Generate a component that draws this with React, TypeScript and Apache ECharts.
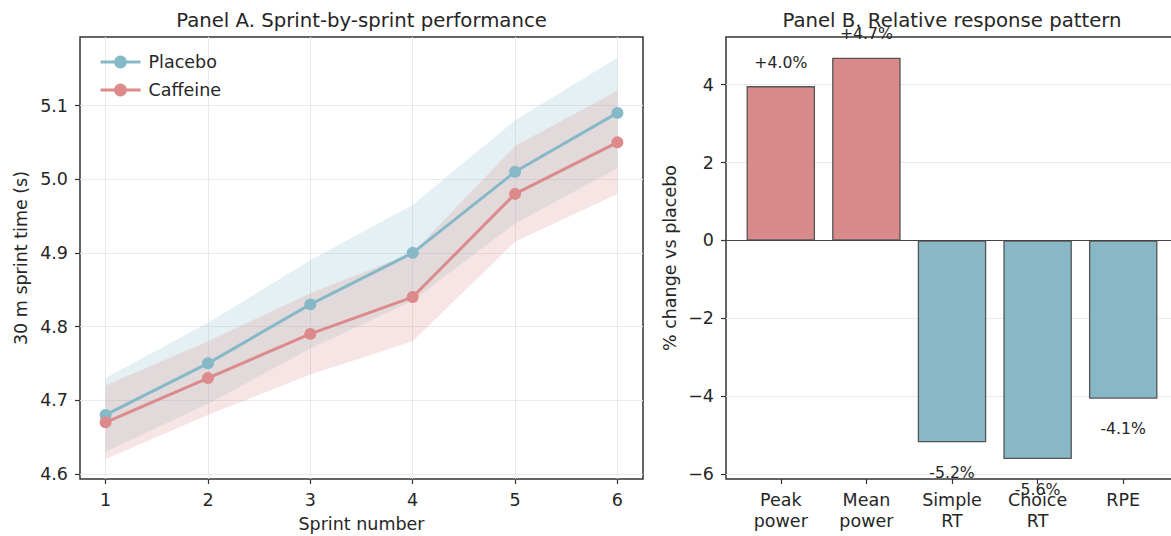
import React, { useEffect, useRef } from 'react';
import * as echarts from 'echarts';

// ---------- Panel A data ----------
const sprints = [1, 2, 3, 4, 5, 6];
const placeboMean = [4.68, 4.75, 4.83, 4.9, 5.01, 5.09];
const placeboLower = [4.63, 4.695, 4.77, 4.835, 4.94, 5.015];
const placeboUpper = [4.73, 4.805, 4.89, 4.965, 5.08, 5.165];
const caffeineMean = [4.67, 4.73, 4.79, 4.84, 4.98, 5.05];
const caffeineLower = [4.62, 4.68, 4.735, 4.78, 4.915, 4.98];
const caffeineUpper = [4.72, 4.78, 4.845, 4.9, 5.045, 5.12];
const sprintTimeTicks = [4.6, 4.7, 4.8, 4.9, 5.0, 5.1];

// ---------- Panel B data ----------
const outcomes = ['Peak\npower', 'Mean\npower', 'Simple\nRT', 'Choice\nRT', 'RPE'];
const pctChange = [3.96, 4.69, -5.18, -5.61, -4.06];
const pctTicks = [-6, -4, -2, 0, 2, 4];
const outcomeIdx = outcomes.map((_, i) => i);

const FONT = 'DejaVu Sans';
const TXT = '#262626';
const BLUE = '#86b9c8';
const RED = '#dc8a8a';
const BAR_BLUE = '#88b7c6';
const BAR_RED = '#d98a8a';
const GRIDLINE = '#e9e9e9';
const FRAME = '#333333';

const gridB = { left: 726, top: 37, width: 452, height: 442 };
const xMinB = -0.64;
const xMaxB = 4.64;

const tickStyle = { show: true, length: 5, lineStyle: { color: FRAME, width: 1.2 } };
const labelBase = { fontSize: 17.5, color: TXT, fontFamily: FONT };
const hiddenLine = { show: false, onZero: false };

const fmtPct = (v: number) => (v > 0 ? '+' : '') + v.toFixed(1) + '%';
const fmtTick = (v: number) => (v < 0 ? '\u2212' + Math.abs(v) : String(v));

function buildOption(): any {
  const bandSeries = (lower: number[], upper: number[], color: string) => ({
    type: 'custom',
    xAxisIndex: 0,
    yAxisIndex: 0,
    silent: true,
    z: 1,
    data: sprints.map((s, i) => [s, lower[i], upper[i]]),
    encode: { x: 0, y: [1, 2] },
    renderItem: (params: any, api: any) => {
      if (params.dataIndex !== 0) return { type: 'group', children: [] };
      const top = sprints.map((s, i) => api.coord([s, upper[i]]));
      const bottom = sprints.map((s, i) => api.coord([s, lower[i]])).reverse();
      return {
        type: 'polygon',
        shape: { points: [...top, ...bottom] },
        style: { fill: color, opacity: 0.22 },
      };
    },
  });

  const meanSeries = (name: string, values: number[], color: string) => ({
    name,
    type: 'line',
    xAxisIndex: 0,
    yAxisIndex: 0,
    data: sprints.map((s, i) => [s, values[i]]),
    symbol: 'circle',
    symbolSize: 12,
    lineStyle: { color, width: 3 },
    itemStyle: { color },
    z: 3,
  });

  return {
    animation: false,
    backgroundColor: '#ffffff',
    textStyle: { fontFamily: FONT },
    title: [
      {
        text: 'Panel A. Sprint-by-sprint performance',
        left: 361.5,
        textAlign: 'center',
        top: 10,
        padding: 0,
        textStyle: { fontSize: 19.7, fontWeight: 'normal', color: TXT, fontFamily: FONT },
      },
      {
        text: 'Panel B. Relative response pattern',
        left: gridB.left + gridB.width / 2,
        textAlign: 'center',
        top: 10,
        padding: 0,
        textStyle: { fontSize: 19.7, fontWeight: 'normal', color: TXT, fontFamily: FONT },
      },
    ],
    legend: {
      data: ['Placebo', 'Caffeine'],
      orient: 'vertical',
      left: 94,
      top: 48,
      itemWidth: 40,
      itemHeight: 16,
      itemGap: 10,
      lineStyle: { width: 3 },
      textStyle: { ...labelBase, padding: [0, 0, 0, 3] },
    },
    grid: [
      { left: 80, top: 37, width: 563, height: 442, show: true, borderColor: FRAME, borderWidth: 1.5, backgroundColor: 'transparent', outerBoundsMode: 'none' },
      { ...gridB, show: true, borderColor: FRAME, borderWidth: 1.5, backgroundColor: 'transparent', outerBoundsMode: 'none' },
    ],
    xAxis: [
      {
        gridIndex: 0,
        type: 'value',
        min: 0.75,
        max: 6.25,
        name: 'Sprint number',
        nameLocation: 'middle',
        nameGap: 36,
        nameMoveOverlap: false,
        nameTextStyle: { ...labelBase },
        axisLine: hiddenLine,
        axisTick: { ...tickStyle, customValues: sprints },
        axisLabel: { ...labelBase, customValues: sprints, margin: 10, lineHeight: 21 },
        splitLine: { show: true, lineStyle: { color: GRIDLINE, width: 1 } },
      },
      {
        gridIndex: 1,
        type: 'value',
        min: xMinB,
        max: xMaxB,
        axisLine: hiddenLine,
        axisTick: { ...tickStyle, customValues: outcomeIdx },
        axisLabel: {
          ...labelBase,
          customValues: outcomeIdx,
          margin: 10,
          lineHeight: 21,
          formatter: (v: number) => outcomes[Math.round(v)] ?? '',
        },
        splitLine: { show: false },
      },
    ],
    yAxis: [
      {
        gridIndex: 0,
        type: 'value',
        min: 4.593,
        max: 5.193,
        name: '30 m sprint time (s)',
        nameLocation: 'middle',
        nameGap: 50,
        nameMoveOverlap: false,
        nameTextStyle: { ...labelBase },
        axisLine: hiddenLine,
        axisTick: { ...tickStyle, customValues: sprintTimeTicks },
        axisLabel: { ...labelBase, customValues: sprintTimeTicks, margin: 12, formatter: (v: number) => v.toFixed(1) },
        splitLine: { show: true, lineStyle: { color: GRIDLINE, width: 1 } },
      },
      {
        gridIndex: 1,
        type: 'value',
        min: -6.12,
        max: 5.22,
        name: '% change vs placebo',
        nameLocation: 'middle',
        nameGap: 47,
        nameMoveOverlap: false,
        nameTextStyle: { ...labelBase },
        axisLine: hiddenLine,
        axisTick: { ...tickStyle, customValues: pctTicks },
        axisLabel: { ...labelBase, customValues: pctTicks, margin: 12, formatter: fmtTick },
        splitLine: { show: true, lineStyle: { color: GRIDLINE, width: 1 } },
      },
    ],
    series: [
      bandSeries(placeboLower, placeboUpper, BLUE),
      bandSeries(caffeineLower, caffeineUpper, RED),
      meanSeries('Placebo', placeboMean, BLUE),
      meanSeries('Caffeine', caffeineMean, RED),
      {
        type: 'bar',
        xAxisIndex: 1,
        yAxisIndex: 1,
        barWidth: (0.8 * gridB.width) / (xMaxB - xMinB),
        data: pctChange.map((v, i) => ({
          value: [i, v],
          itemStyle: { color: v >= 0 ? BAR_RED : BAR_BLUE },
          label: { position: v >= 0 ? 'top' : 'bottom', distance: v >= 0 ? 16 : 22 },
        })),
        itemStyle: { borderColor: '#555555', borderWidth: 1.3 },
        label: {
          show: true,
          fontSize: 15.7,
          color: TXT,
          fontFamily: FONT,
          formatter: (p: any) => fmtPct(p.value[1]),
        },
        markLine: {
          silent: true,
          symbol: 'none',
          label: { show: false },
          lineStyle: { color: '#444444', width: 1.2, type: 'solid' },
          data: [{ yAxis: 0 }],
        },
        z: 2,
      },
    ],
  };
}

export default function App() {
  const ref = useRef<HTMLDivElement>(null);
  useEffect(() => {
    document.body.style.margin = '0';
    const chart = echarts.init(ref.current!, null, { renderer: 'svg' });
    chart.setOption(buildOption());
    return () => chart.dispose();
  }, []);
  return <div ref={ref} style={{ width: 1171, height: 536 }} />;
}
